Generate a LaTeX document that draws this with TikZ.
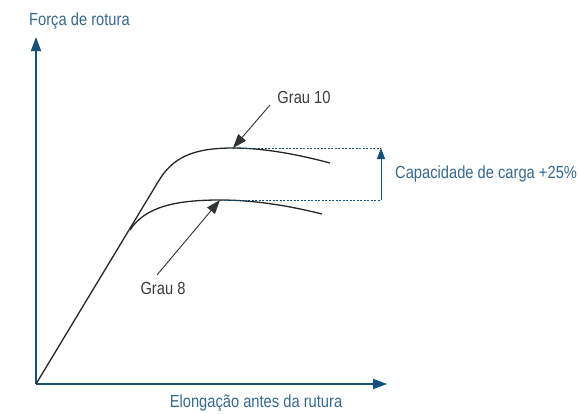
\documentclass[tikz,border=0pt]{standalone}
\usepackage{fontspec}
\setmainfont[FakeStretch=0.84]{Liberation Sans}
\usetikzlibrary{arrows.meta}
\definecolor{axisblue}{RGB}{20,80,120}
\definecolor{txtblue}{RGB}{55,105,140}
\definecolor{txtgrey}{RGB}{60,60,60}
\tikzset{
  axisline/.style={draw=axisblue, line width=1.4pt, -{Triangle[length=14pt,width=10pt]}},
  curve/.style={draw=black!85, line width=1.3pt},
  pointer/.style={draw=black!80, line width=0.9pt, -{Triangle[length=14pt,width=10pt]}},
  guide/.style={draw=axisblue, line width=0.8pt, dash pattern=on 2pt off 1.5pt},
  axislabel/.style={text=txtblue, font=\fontsize{17.5}{20}\selectfont, inner sep=0pt},
  gradelabel/.style={text=txtgrey, font=\fontsize{17.5}{20}\selectfont, inner sep=0pt}
}
\begin{document}
\begin{tikzpicture}[x=1pt,y=-1pt]
\useasboundingbox (0,0) rectangle (579,413);
\coordinate (O) at (36,384);
\coordinate (ytip) at (36,37);
\coordinate (xtip) at (387,384);
\draw[axisline] (O) -- (ytip);
\draw[axisline] (O) -- (xtip);
\node[axislabel, anchor=west] (ylab) at (29,21) {Força de rotura};
\node[axislabel] (xlab) at (256,403) {Elongação antes da rutura};
% curves
\coordinate (k8) at (130,230);
\coordinate (p10) at (233,148);
\coordinate (p8) at (220,200);
\coordinate (e10) at (330,163);
\coordinate (e8) at (322,214);
\draw[curve] (O) -- (158,182) .. controls (172,158) and (192,148) .. (p10) .. controls (265,148) and (300,155) .. (e10);
\draw[curve] (k8) .. controls (145,207) and (175,200) .. (p8) .. controls (255,200) and (290,206) .. (e8);
% guides
\coordinate (g10) at (381,148);
\coordinate (g8) at (381,200);
\draw[guide] (p10) -- (g10);
\draw[guide] (p8) -- (g8);
\draw[draw=axisblue, line width=1pt, -{Triangle[length=11pt,width=8pt]}] (g8) -- (g10);
\node[axislabel, anchor=west] (cap) at (395,174) {Capacidade de carga +25\%};
% grade labels
\node[gradelabel] (g10lab) at (304,97) {Grau 10};
\node[gradelabel] (g8lab) at (163,288) {Grau 8};
\coordinate (a10) at (270,105);
\coordinate (a8) at (157,275);
\draw[pointer] (a10) -- (p10);
\draw[pointer] (a8) -- (p8);
\end{tikzpicture}
\end{document}
